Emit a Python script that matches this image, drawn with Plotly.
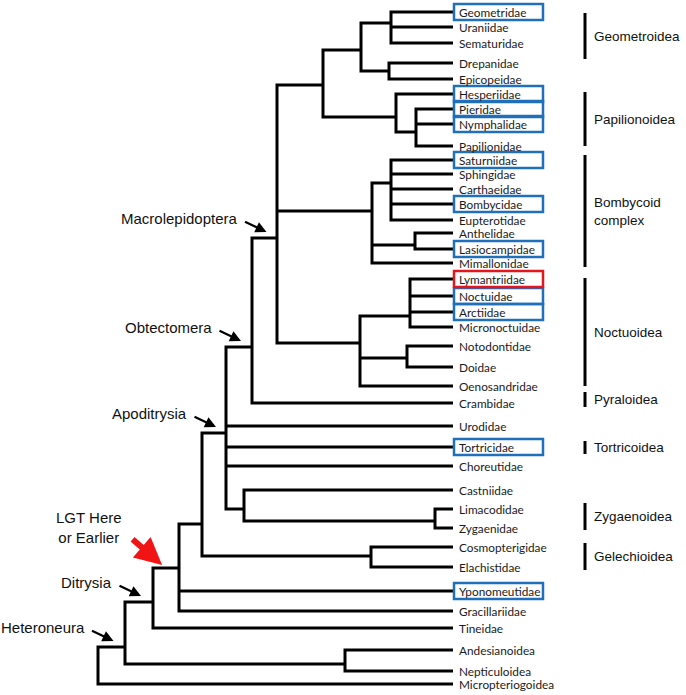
import plotly.graph_objects as go

# ---- Leaves (taxa) and their row positions (top to bottom) ----
leaf_names = ["Geometridae", "Uraniidae", "Sematuridae", "Drepanidae", "Epicopeidae",
              "Hesperiidae", "Pieridae", "Nymphalidae", "Papilionidae", "Saturniidae",
              "Sphingidae", "Carthaeidae", "Bombycidae", "Eupterotidae", "Anthelidae",
              "Lasiocampidae", "Mimallonidae", "Lymantriidae", "Noctuidae", "Arctiidae",
              "Micronoctuidae", "Notodontidae", "Doidae", "Oenosandridae", "Crambidae",
              "Urodidae", "Tortricidae", "Choreutidae", "Castniidae", "Limacodidae",
              "Zygaenidae", "Cosmopterigidae", "Elachistidae", "Yponomeutidae",
              "Gracillariidae", "Tineidae", "Andesianoidea", "Nepticuloidea",
              "Micropteriogoidea"]
leaf_rows = [12, 27, 43, 63, 79, 94, 109, 124, 146, 160, 174, 189, 204, 220, 233, 249, 263,
             279, 296, 312, 327, 346, 367, 386, 403, 426, 447, 466, 490, 509, 528, 547, 567,
             591, 611, 628, 650, 671, 684]
leaf_depth = 453

# ---- Internal nodes: name, depth, row of its stem, children ----
node_names = ["N_GUS", "N_DE", "N_Geo", "N_PNP", "N_Pap", "N_GP", "N_SSCBE", "N_AL", "N_Bomb",
              "N_LNAM", "N_ND", "N_Noct", "Macrolepidoptera", "Obtectomera", "N_LZ", "N_CZ",
              "Apoditrysia", "N_Gel", "N_AG", "LGT", "Ditrysia", "N_AN", "Heteroneura", "Root"]
node_depth = [391, 389, 361, 416, 396, 323, 391, 415, 372,
              410, 407, 360, 277, 252, 435, 244,
              226, 371, 202, 179, 153, 345, 125, 98]
node_rows = [23, 71, 50, 132, 117, 85, 183, 245, 211,
             316, 358, 343, 238, 347, 521, 509,
             433, 556, 524, 568, 602, 664, 647, 684]
node_children = [
    ["Geometridae", "Uraniidae", "Sematuridae"],
    ["Drepanidae", "Epicopeidae"],
    ["N_GUS", "N_DE"],
    ["Pieridae", "Nymphalidae", "Papilionidae"],
    ["Hesperiidae", "N_PNP"],
    ["N_Geo", "N_Pap"],
    ["Saturniidae", "Sphingidae", "Carthaeidae", "Bombycidae", "Eupterotidae"],
    ["Anthelidae", "Lasiocampidae"],
    ["N_SSCBE", "N_AL", "Mimallonidae"],
    ["Lymantriidae", "Noctuidae", "Arctiidae", "Micronoctuidae"],
    ["Notodontidae", "Doidae"],
    ["N_LNAM", "N_ND", "Oenosandridae"],
    ["N_GP", "N_Bomb", "N_Noct"],
    ["Macrolepidoptera", "Crambidae"],
    ["Limacodidae", "Zygaenidae"],
    ["Castniidae", "N_LZ"],
    ["Obtectomera", "Urodidae", "Tortricidae", "Choreutidae", "N_CZ"],
    ["Cosmopterigidae", "Elachistidae"],
    ["Apoditrysia", "N_Gel"],
    ["N_AG", "Yponomeutidae", "Gracillariidae"],
    ["LGT", "Tineidae"],
    ["Andesianoidea", "Nepticuloidea"],
    ["Ditrysia", "N_AN"],
    ["Heteroneura", "Micropteriogoidea"],
]

# ---- Highlighted taxa ----
blue_boxed = ["Geometridae", "Hesperiidae", "Pieridae", "Nymphalidae", "Saturniidae",
              "Bombycidae", "Lasiocampidae", "Noctuidae", "Arctiidae", "Tortricidae",
              "Yponomeutidae"]
red_boxed = ["Lymantriidae"]

# ---- Superfamily groups on the right ----
group_labels = ["Geometroidea", "Papilionoidea", "Bombycoid<br>complex", "Noctuoidea",
                "Pyraloidea", "Tortricoidea", "Zygaenoidea", "Gelechioidea"]
group_top = [13, 92, 155, 278, 392, 441, 503, 543]
group_bottom = [59, 146, 267, 386, 407, 454, 530, 570]

# ---- Named clades with arrows ----
clade_labels = ["Macrolepidoptera", "Obtectomera", "Apoditrysia", "Ditrysia", "Heteroneura"]
lgt_label = "LGT Here<br>or Earlier"
lgt_node = "LGT"

# ================== build ==================
pos = {}
for n, y in zip(leaf_names, leaf_rows):
    pos[n] = (leaf_depth, y)
for n, x, y in zip(node_names, node_depth, node_rows):
    pos[n] = (x, y)
parent_of = {}
for n, ch in zip(node_names, node_children):
    for c in ch:
        parent_of[c] = n

xs, ys = [], []
for n, ch in zip(node_names, node_children):
    nx = pos[n][0]
    srt = sorted(ch, key=lambda c: pos[c][1])
    first, last = srt[0], srt[-1]
    xs += [pos[first][0], nx, nx, pos[last][0], None]
    ys += [pos[first][1], pos[first][1], pos[last][1], pos[last][1], None]
    for c in srt[1:-1]:
        xs += [nx, pos[c][0], None]
        ys += [pos[c][1], pos[c][1], None]

fig = go.Figure()
fig.add_trace(go.Scatter(x=xs, y=ys, mode="lines",
                         line=dict(color="black", width=3), hoverinfo="skip",
                         showlegend=False))

leaf_font = dict(family="Lato, Liberation Sans, sans-serif", size=11.8, color="#1a1a1a")
label_font = dict(family="Liberation Sans, Arial, sans-serif", size=15, color="#111111")
group_font = dict(family="Liberation Sans, Arial, sans-serif", size=13.5, color="#111111")

annotations = []
for n, y in zip(leaf_names, leaf_rows):
    annotations.append(dict(x=leaf_depth + 4, y=y, text=n, showarrow=False, xanchor="left",
                            yanchor="middle", font=leaf_font, xref="x", yref="y"))

shapes = []
for n in blue_boxed + red_boxed:
    y = pos[n][1]
    col = "#e3161d" if n in red_boxed else "#1f6fba"
    shapes.append(dict(type="rect", xref="x", yref="y", x0=leaf_depth + 1, x1=543,
                       y0=y - 8, y1=y + 8, line=dict(color=col, width=2.5)))

for lab, t, b in zip(group_labels, group_top, group_bottom):
    shapes.append(dict(type="line", xref="x", yref="y", x0=585, x1=585, y0=t, y1=b,
                       line=dict(color="black", width=3)))
    annotations.append(dict(x=592, y=(t + b) / 2, text=lab, showarrow=False, xanchor="left",
                            yanchor="middle", align="left", font=group_font,
                            xref="x", yref="y"))

for lab in clade_labels:
    nx, ny = pos[lab]
    px = pos[parent_of[lab]][0]
    hx, hy = (px + nx) / 2 + 2, ny - 6
    tx, ty = hx - 23, hy - 11
    annotations.append(dict(x=hx, y=hy, ax=tx, ay=ty, axref="x", ayref="y", xref="x",
                            yref="y", text="", showarrow=True, arrowhead=2, arrowsize=1,
                            arrowwidth=2.2, arrowcolor="black"))
    annotations.append(dict(x=tx - 4, y=ty - 3, text=lab, showarrow=False, xanchor="right",
                            yanchor="middle", font=label_font, xref="x", yref="y"))

nx, ny = pos[lgt_node]
px = pos[parent_of[lgt_node]][0]
hx, hy = px + 0.35 * (nx - px), ny - 3
annotations.append(dict(x=hx, y=hy, ax=hx - 31, ay=hy - 27, axref="x", ayref="y", xref="x",
                        yref="y", text="", showarrow=True, arrowhead=2, arrowsize=0.9,
                        arrowwidth=6, arrowcolor="#f01414"))
annotations.append(dict(x=89, y=527, text=lgt_label, showarrow=False, xanchor="center",
                        yanchor="middle", align="center", font=label_font,
                        xref="x", yref="y"))

fig.update_layout(
    width=686, height=695, margin=dict(l=0, r=0, t=0, b=0),
    paper_bgcolor="white", plot_bgcolor="white",
    xaxis=dict(range=[0, 686], visible=False, fixedrange=True),
    yaxis=dict(range=[695, 0], visible=False, fixedrange=True),
    shapes=shapes, annotations=annotations, showlegend=False,
)
fig.write_html("out.html", config={"displayModeBar": False},
               post_script="document.body.style.margin='0';document.body.style.overflow='hidden';")
